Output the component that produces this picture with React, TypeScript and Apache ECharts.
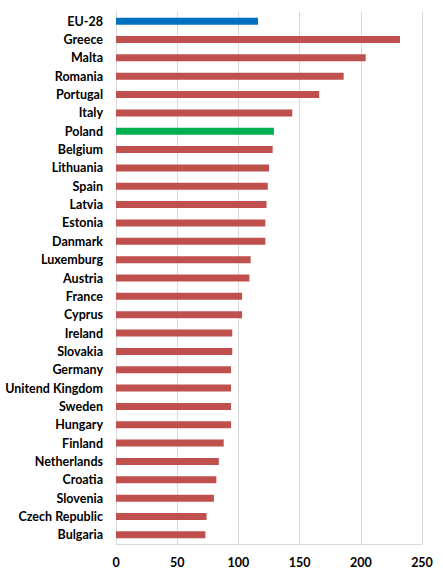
import React, { useEffect, useRef } from "react";
import * as echarts from "echarts";

const categories = [
  "EU-28", "Greece", "Malta", "Romania", "Portugal", "Italy", "Poland", "Belgium",
  "Lithuania", "Spain", "Latvia", "Estonia", "Danmark", "Luxemburg", "Austria",
  "France", "Cyprus", "Ireland", "Slovakia", "Germany", "Unitend Kingdom", "Sweden",
  "Hungary", "Finland", "Netherlands", "Croatia", "Slovenia", "Czech Republic", "Bulgaria",
];
const values = [
  116, 232, 204, 186, 166, 144, 129, 128,
  125, 124, 123, 122, 122, 110, 109,
  103, 103, 95, 95, 94, 94, 94,
  94, 88, 84, 82, 80, 74, 73,
];
const highlight: Record<string, string> = { "EU-28": "#0070C0", Poland: "#00B050" };
const baseColor = "#C0504D";
const xTicks = { min: 0, max: 250, interval: 50 };

export default function App() {
  const ref = useRef<HTMLDivElement>(null);
  useEffect(() => {
    if (!ref.current) return;
    const chart = echarts.init(ref.current, null, { renderer: "svg" });
    chart.setOption({
      animation: false,
      backgroundColor: "#ffffff",
      grid: { left: 116, right: 21, top: 12, bottom: 32, containLabel: false },
      xAxis: {
        type: "value",
        min: xTicks.min,
        max: xTicks.max,
        interval: xTicks.interval,
        axisLine: { show: true, lineStyle: { color: "#D9D9D9", width: 1 } },
        axisTick: { show: false },
        splitLine: { show: true, lineStyle: { color: "#D9D9D9", width: 1 } },
        axisLabel: {
          color: "#000",
          fontFamily: "Lato",
          fontWeight: "bold",
          fontSize: 12.5,
          margin: 12,
        },
      },
      yAxis: {
        type: "category",
        data: categories,
        inverse: true,
        axisLine: { show: true, lineStyle: { color: "#D9D9D9", width: 1 } },
        axisTick: { show: false },
        axisLabel: {
          color: "#000",
          fontFamily: "Lato",
          fontWeight: "bold",
          fontSize: 12.5,
          margin: 13,
        },
      },
      series: [
        {
          type: "bar",
          data: categories.map((c, i) => ({
            value: values[i],
            itemStyle: { color: highlight[c] || baseColor },
          })),
          barWidth: 7,
        },
      ],
    });
    return () => chart.dispose();
  }, []);
  return (
    <div
      ref={ref}
      style={{ position: "fixed", left: 0, top: 0, width: 443, height: 576, background: "#fff" }}
    />
  );
}
